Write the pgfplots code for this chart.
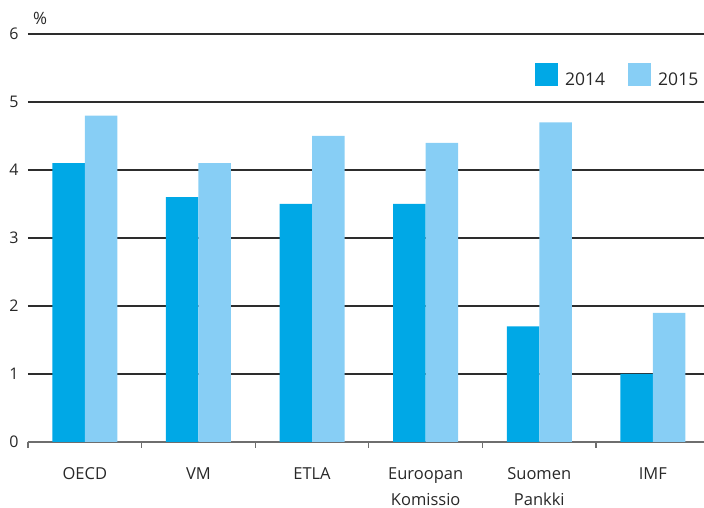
\documentclass[border=0pt]{standalone}
\usepackage{pgfplots}
\pgfplotsset{compat=1.18}
\usepackage{fontspec}
\setmainfont{Open Sans}
\definecolor{c14}{RGB}{0,168,230}
\definecolor{c15}{RGB}{135,206,245}
\definecolor{txt}{RGB}{40,40,40}
\definecolor{gridc}{RGB}{45,45,45}
\definecolor{axc}{RGB}{110,110,110}
\begin{document}
\begin{tikzpicture}[x=1pt,y=1pt]
\useasboundingbox (0,0) rectangle (704,508);
\begin{axis}[
  at={(28pt,66pt)}, anchor=south west,
  scale only axis, width=676pt, height=408pt,
  xmin=-0.5, xmax=5.45, ymin=0, ymax=6,
  clip=false,
  ybar=0pt, bar width=0.286,
  axis lines*=left,
  x axis line style={draw=axc, line width=1.2pt, -},
  y axis line style={draw=none},
  ytick={0,...,6},
  /pgf/number format/assume math mode=true,
  ymajorgrids, grid style={draw=gridc, line width=1.1pt},
  xtick={0,...,5},
  xticklabels={OECD,VM,ETLA,{Euroopan\\Komissio},{Suomen\\Pankki},IMF},
  minor xtick={-0.5,0.5,1.5,2.5,3.5,4.5},
  tick align=outside,
  major tick length=0pt, minor tick length=6pt,
  minor tick style={draw=axc, line width=1.2pt},
  major tick style={draw=none},
  xticklabel style={font=\fontsize{16.5}{26}\selectfont, text=txt, align=center, anchor=north, yshift=-22pt},
  yticklabel style={font=\fontsize{16}{18}\selectfont, text=txt, anchor=east, xshift=-6pt},
  legend style={draw=none, fill=none, at={(rel axis cs:0.75,0.929)}, anchor=north west,
    legend columns=2, font=\fontsize{17.5}{20}\selectfont, text=txt, inner sep=0pt,
    /tikz/every odd column/.append style={column sep=5pt},
    /tikz/every even column/.append style={column sep=21pt}},
  legend image code/.code={\fill[#1] (0pt,-6pt) rectangle (23pt,17pt);},
]
\addplot[fill=c14, draw=none] coordinates {(0,4.1) (1,3.6) (2,3.5) (3,3.5) (4,1.7) (5,1.0)};
\addplot[fill=c15, draw=none] coordinates {(0,4.8) (1,4.1) (2,4.5) (3,4.4) (4,4.7) (5,1.9)};
\legend{2014,2015}
\end{axis}
\node[text=txt, font=\fontsize{17}{20}\selectfont] at (40,490) {\%};
\end{tikzpicture}
\end{document}
